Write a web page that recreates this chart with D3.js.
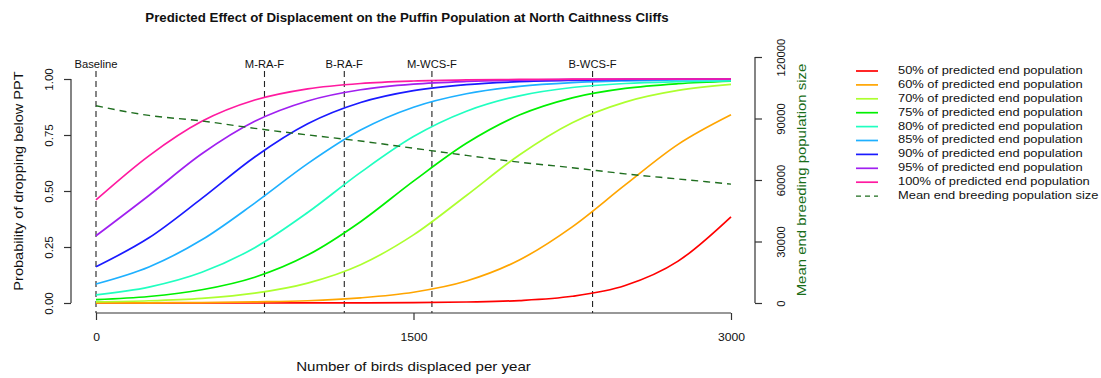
<!DOCTYPE html>
<html><head><meta charset="utf-8">
<script src="https://cdn.jsdelivr.net/npm/d3@7/dist/d3.min.js"></script>
<style>body{margin:0;background:#fff}svg{display:block;font-family:"Liberation Sans",Arial,sans-serif}</style>
</head><body><svg id="c" width="1101" height="378"></svg>
<script>
const birds = [0,250,500,750,1000,1250,1500,1750,2000,2250,2500,2750,3000];
const p50  = [0,0,0,0.0001,0.0002,0.0006,0.0016,0.0045,0.011,0.030,0.078,0.187,0.385];
const p60  = [0.0005,0.001,0.002,0.005,0.010,0.023,0.048,0.098,0.192,0.340,0.527,0.708,0.840];
const p70  = [0.005,0.010,0.021,0.044,0.089,0.171,0.304,0.480,0.661,0.805,0.897,0.949,0.976];
const p75  = [0.015,0.029,0.059,0.115,0.214,0.363,0.544,0.713,0.839,0.916,0.958,0.979,0.990];
const p80  = [0.036,0.071,0.137,0.247,0.404,0.583,0.743,0.856,0.925,0.962,0.980,0.988,0.992];
const p85  = [0.085,0.161,0.282,0.446,0.622,0.772,0.874,0.934,0.967,0.984,0.992,0.996,0.998];
const p90  = [0.162,0.291,0.467,0.652,0.800,0.895,0.948,0.975,0.988,0.994,0.997,0.999,0.999];
const p95  = [0.300,0.480,0.666,0.811,0.902,0.952,0.977,0.989,0.995,0.998,0.999,0.999,1.0];
const p100 = [0.460,0.657,0.811,0.906,0.956,0.980,0.991,0.996,0.998,0.999,1.0,1.0,1.0];
const meanPop = [96200,91500,88800,85200,82000,79000,75500,72000,68700,66000,63000,60500,58000];
const seriesNames = ["50% of predicted end population","60% of predicted end population","70% of predicted end population","75% of predicted end population","80% of predicted end population","85% of predicted end population","90% of predicted end population","95% of predicted end population","100% of predicted end population"];
const seriesColors = ["#ff0000","#ffa500","#adff2f","#00f000","#20ffc0","#1eb0ff","#1a1aff","#a020f0","#ff1aa0"];
const meanName = "Mean end breeding population size";
const scenarios = ["Baseline","M-RA-F","B-RA-F","M-WCS-F","B-WCS-F"];
const scenarioBirds = [0,796,1173,1587,2346];
const xTicks = [0,1500,3000];
const yTicks = [0,0.25,0.5,0.75,1];
const yTickLabels = ["0.00","0.25","0.50","0.75","1.00"];
const y2Ticks = [0,30000,60000,90000,120000];
const title = "Predicted Effect of Displacement on the Puffin Population at North Caithness Cliffs";

const svg = d3.select("#c");
const x = d3.scaleLinear().domain([0,3000]).range([96,731]);
const y = d3.scaleLinear().domain([0,1]).range([303,79]);
const y2 = d3.scaleLinear().domain([0,120000]).range([303,57]);
const axisCol = "#333";
function stretch(sel,k){ sel.each(function(){ const w=this.getComputedTextLength();
  d3.select(this).attr("textLength",w*k).attr("lengthAdjust","spacingAndGlyphs"); }); return sel; }

// title
stretch(svg.append("text").attr("x",407).attr("y",22).attr("text-anchor","middle")
  .attr("font-size",12.2).attr("font-weight","bold").attr("fill","#111").text(title), 1.09);

// scenario lines
scenarioBirds.forEach((b,i)=>{
  svg.append("line").attr("x1",x(b)).attr("x2",x(b)).attr("y1",71).attr("y2",313)
    .attr("stroke","#222").attr("stroke-width",1.1).attr("stroke-dasharray","6,4");
  stretch(svg.append("text").attr("x",x(b)).attr("y",68).attr("text-anchor","middle")
    .attr("font-size",10).attr("fill","#111").text(scenarios[i]), 1.12);
});

// curves
const all = [p50,p60,p70,p75,p80,p85,p90,p95,p100];
const line = d3.line().x((d,i)=>x(birds[i])).y(d=>y(d)).curve(d3.curveMonotoneX);
all.forEach((s,k)=>{
  svg.append("path").attr("d",line(s)).attr("fill","none")
    .attr("stroke",seriesColors[k]).attr("stroke-width",1.7);
});
const line2 = d3.line().x((d,i)=>x(birds[i])).y(d=>y2(d)).curve(d3.curveMonotoneX);
svg.append("path").attr("d",line2(meanPop)).attr("fill","none")
  .attr("stroke","#1f6e1f").attr("stroke-width",1.4).attr("stroke-dasharray","7,5");

// axes
const gx = svg.append("g").attr("transform","translate(0,313)")
  .call(d3.axisBottom(x).tickValues(xTicks).tickSize(7).tickPadding(14).tickFormat(d3.format("d")));
const gy = svg.append("g").attr("transform","translate(71,0)")
  .call(d3.axisLeft(y).tickValues(yTicks).tickSize(7).tickFormat((d,i)=>yTickLabels[i]));
const gy2 = svg.append("g").attr("transform","translate(755,0)")
  .call(d3.axisRight(y2).tickValues(y2Ticks).tickSize(7).tickFormat(d3.format("d")));
[gx,gy,gy2].forEach(g=>{
  g.select(".domain").attr("stroke",axisCol).attr("stroke-width",1.2);
  g.selectAll(".tick line").attr("stroke",axisCol).attr("stroke-width",1.2);
  g.selectAll("text").attr("font-size",10.5).attr("fill","#111").attr("font-family","Liberation Sans, Arial, sans-serif");
});
gx.select(".domain").attr("d",`M${x(0)},0H${x(3000)}`);
gy.select(".domain").attr("d",`M0,${y(0)}V${y(1)}`);
gy2.select(".domain").attr("d",`M0,${y2(0)}V${y2(120000)}`);
stretch(gx.selectAll(".tick text"),1.16);
gy.selectAll(".tick text").each(function(){
  const t=d3.select(this); t.attr("x",null).attr("y",null).attr("dy",null).attr("text-anchor","middle")
   .attr("transform","translate(-21,0) rotate(-90)").attr("dominant-baseline","middle");
});
stretch(gy.selectAll(".tick text"),1.1);
gy2.selectAll(".tick text").each(function(){
  const t=d3.select(this); t.attr("x",null).attr("y",null).attr("dy",null)
   .attr("transform","translate(27,0) rotate(-90)").attr("text-anchor","middle").attr("dominant-baseline","middle");
});
stretch(gy2.selectAll(".tick text"),1.08);

// axis titles
stretch(svg.append("text").attr("x",413.5).attr("y",371).attr("text-anchor","middle")
  .attr("font-size",13).attr("fill","#111").text("Number of birds displaced per year"),1.16);
stretch(svg.append("text").attr("transform","translate(20,181) rotate(-90)").attr("text-anchor","middle")
  .attr("dominant-baseline","middle").attr("font-size",13).attr("fill","#111").text("Probability of dropping below PPT"),1.12);
stretch(svg.append("text").attr("transform","translate(803,180) rotate(-90)").attr("text-anchor","middle")
  .attr("dominant-baseline","middle").attr("font-size",13).attr("fill","#1a6e1a").text("Mean end breeding population size"),1.15);

// legend
const lg = svg.append("g");
const names = seriesNames.concat([meanName]);
names.forEach((n,i)=>{
  const yy = 71 + i*13.9;
  lg.append("line").attr("x1",856).attr("x2",878).attr("y1",yy).attr("y2",yy)
    .attr("stroke", i<9 ? seriesColors[i] : "#1f6e1f").attr("stroke-width", i<9?1.7:1.4)
    .attr("stroke-dasharray", i<9 ? null : "5,4");
  stretch(lg.append("text").attr("x",898).attr("y",yy).attr("dominant-baseline","middle")
    .attr("font-size",11).attr("fill","#111").text(n),1.17);
});
</script></body></html>
